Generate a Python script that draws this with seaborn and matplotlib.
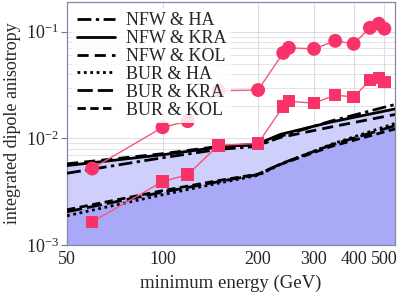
import numpy as np
import pandas as pd
import matplotlib
matplotlib.use("Agg")
import matplotlib.pyplot as plt
import seaborn as sns

# ---- data ----
energy_pts = [60, 100, 120, 150, 200, 240, 250, 300, 350, 400, 450, 480, 500]
circles = [0.00521, 0.0127, 0.0145, 0.0280, 0.0284, 0.0634, 0.0707, 0.0692,
           0.0822, 0.0771, 0.109, 0.119, 0.107]
squares = [0.00165, 0.00393, 0.00457, 0.0086, 0.00897, 0.0200, 0.0223, 0.0214,
           0.0255, 0.0244, 0.0352, 0.0368, 0.0337]

energy_curve = [50, 100, 150, 200, 235, 340, 545]
nfw_ha = [0.00471, 0.00658, 0.00788, 0.00841, 0.01044, 0.01456, 0.02094]
nfw_kra = [0.00556, 0.00702, 0.00828, 0.00891, 0.0109, 0.01425, 0.0190]
nfw_kol = [0.00577, 0.00718, 0.00841, 0.00868, 0.0102, 0.0128, 0.01684]
bur_ha = [0.00188, 0.00296, 0.00380, 0.00450, 0.00570, 0.00880, 0.01394]
bur_kra = [0.00205, 0.00313, 0.00393, 0.00458, 0.00575, 0.00868, 0.01327]
bur_kol = [0.00214, 0.00323, 0.00402, 0.00462, 0.00570, 0.00841, 0.01234]

labels = ["NFW & HA", "NFW & KRA", "NFW & KOL", "BUR & HA", "BUR & KRA", "BUR & KOL"]
xticks = [50, 100, 200, 300, 400, 500]

# ---- style ----
sns.set_style("whitegrid")
plt.rcParams['font.family'] = ['Liberation Serif', 'DejaVu Serif']
plt.rcParams['mathtext.fontset'] = 'stix'

fig = plt.figure(figsize=(3.99, 2.98), dpi=100)
ax = fig.add_axes([0.168, 0.178, 0.822, 0.815])

curves = [nfw_ha, nfw_kra, nfw_kol, bur_ha, bur_kra, bur_kol]
styles = [(0, (5, 1.6, 1.2, 1.6)), '-', (0, (4, 2.2)), (0, (1.0, 1.3)),
          (0, (5.5, 1.8)), (0, (3, 1.6))]

ec = np.array(energy_curve, dtype=float)
ax.fill_between(ec, 1e-4, np.array(nfw_kra), color='#cfcffb', lw=0, zorder=0.6)
ax.fill_between(ec, 1e-4, np.array(bur_kra), color='#a9a9f8', lw=0, zorder=0.7)

for lab, y, ls in zip(labels, curves, styles):
    df = pd.DataFrame({'E': energy_curve, 'A': y})
    sns.lineplot(data=df, x='E', y='A', ax=ax, color='black', lw=2.0,
                 linestyle=ls, label=lab, zorder=3)

red = '#f7336a'
dfp = pd.DataFrame({'E': energy_pts, 'c': circles, 's': squares})
ax.plot(dfp['E'], dfp['c'], color='#f7557f', lw=1.0, zorder=4)
ax.plot(dfp['E'], dfp['s'], color='#f7557f', lw=1.0, zorder=4)
sns.scatterplot(data=dfp, x='E', y='c', ax=ax, marker='o', s=100, color=red,
                edgecolor='none', zorder=5, legend=False)
sns.scatterplot(data=dfp, x='E', y='s', ax=ax, marker='s', s=80, color=red,
                edgecolor='none', zorder=5, legend=False)

ax.set_xscale('log')
ax.set_yscale('log')
ax.set_xlim(50, 540)
ax.set_ylim(1e-3, 0.19)
ax.set_xticks(xticks)
ax.set_xticklabels([str(t) for t in xticks])
ax.xaxis.set_minor_locator(matplotlib.ticker.NullLocator())
ax.grid(True, which='major', color='#d0d0dc', lw=0.8, alpha=0.7)
ax.grid(True, which='minor', axis='y', color='#d0d0dc', lw=0.6, alpha=0.7)
ax.yaxis.set_minor_formatter(matplotlib.ticker.NullFormatter())

ax.tick_params(axis='x', which='major', direction='in', length=4, width=0.8,
               color='#777777', labelsize=13, pad=4, bottom=True)
ax.tick_params(axis='y', which='major', direction='out', length=4, width=0.8,
               color='#777777', labelsize=13, pad=2, left=True)
ax.tick_params(axis='y', which='minor', left=False)
for sp in ax.spines.values():
    sp.set_color('#8888aa')
    sp.set_linewidth(0.9)

ax.set_xlabel('minimum energy (GeV)', fontsize=13.5, labelpad=5)
ax.set_ylabel('integrated dipole anisotropy', fontsize=13, labelpad=3)

leg = ax.legend(loc='upper left', fontsize=13, frameon=True, handlelength=2.1,
                handletextpad=0.6, labelspacing=0.05, borderaxespad=0.3,
                borderpad=0.25)
leg.get_frame().set_facecolor('white')
leg.get_frame().set_alpha(0.85)
leg.get_frame().set_edgecolor('none')
leg.set_zorder(10)

fig.savefig('out.png', dpi=100)
